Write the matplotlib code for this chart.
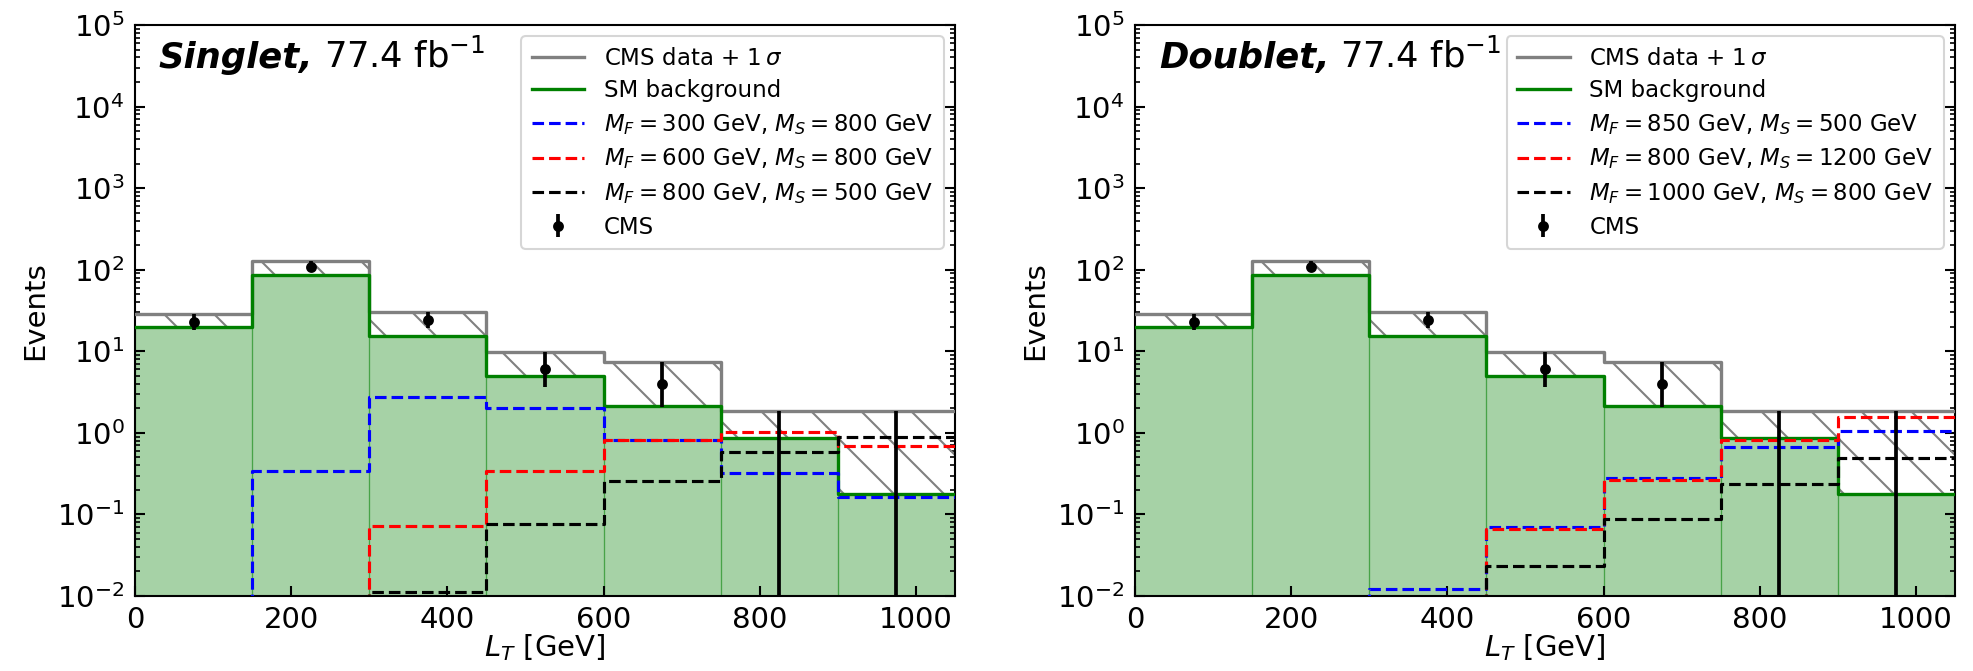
import numpy as np
import matplotlib
matplotlib.use("Agg")
import matplotlib.pyplot as plt
from matplotlib.ticker import LogLocator, NullFormatter, FixedLocator
from matplotlib.transforms import offset_copy

# ---------------- data ----------------
bin_edges = [0, 150, 300, 450, 600, 750, 900, 1050]

sm_background = [20.0, 85.0, 15.5, 5.0, 2.12, 0.855, 0.177]
cms_data = [23.0, 108.0, 24.0, 6.0, 4.0, 0.0, 0.0]
cms_err_low = [4.8, 10.4, 4.9, 2.3, 1.9, 0.0, 0.0]
cms_data_plus_sigma = [28.7, 127.0, 30.0, 9.8, 7.3, 1.86, 1.86]

singlet_labels = [r"$M_F = 300$ GeV, $M_S = 800$ GeV",
                  r"$M_F = 600$ GeV, $M_S = 800$ GeV",
                  r"$M_F = 800$ GeV, $M_S = 500$ GeV"]
singlet_blue = [0.0, 0.344, 2.77, 2.02, 0.82, 0.324, 0.162]
singlet_red = [0.0, 0.0, 0.0713, 0.344, 0.82, 1.02, 0.695]
singlet_black = [0.0, 0.0, 0.0111, 0.0757, 0.254, 0.58, 0.90]

doublet_labels = [r"$M_F = 850$ GeV, $M_S = 500$ GeV",
                  r"$M_F = 800$ GeV, $M_S = 1200$ GeV",
                  r"$M_F = 1000$ GeV, $M_S = 800$ GeV"]
doublet_blue = [0.0, 0.0, 0.0123, 0.071, 0.277, 0.67, 1.06]
doublet_red = [0.0, 0.0, 0.0, 0.0655, 0.264, 0.82, 1.57]
doublet_black = [0.0, 0.0, 0.0, 0.0231, 0.0886, 0.239, 0.495]

panel_names = ["Singlet,", "Doublet,"]
lumi_text = r" 77.4 fb$^{-1}$"

# ---------------- style ----------------
plt.rcParams["font.family"] = ["DejaVu Sans"]
plt.rcParams["font.size"] = 7
plt.rcParams["hatch.linewidth"] = 0.5
plt.rcParams["hatch.color"] = "gray"
plt.rcParams["axes.linewidth"] = 0.5

W, H, DPI = 1973, 671, 300
fig = plt.figure(figsize=(W / DPI, H / DPI), dpi=DPI)

ax_w = 820 / W
ax_h = 571 / H
ax_b = (H - 596) / H
axes = [fig.add_axes([135 / W, ax_b, ax_w, ax_h]),
        fig.add_axes([1135 / W, ax_b, ax_w, ax_h])]

edges = np.array(bin_edges, dtype=float)
centers = 0.5 * (edges[:-1] + edges[1:])
widths = np.diff(edges)


def stepy(v):
    v = np.asarray(v, dtype=float)
    return np.append(v, v[-1])


panels = [
    (singlet_labels, [singlet_blue, singlet_red, singlet_black]),
    (doublet_labels, [doublet_blue, doublet_red, doublet_black]),
]

for ax, name, (labels, sigs) in zip(axes, panel_names, panels):
    bkg = np.array(sm_background)
    up = np.array(cms_data_plus_sigma)
    data = np.array(cms_data)

    ax.set_yscale("log")
    # green filled background
    ax.bar(edges[:-1], bkg, width=widths, align="edge", color="green",
           alpha=0.35, edgecolor="green", linewidth=0.3, zorder=1)
    # hatched uncertainty band
    ax.fill_between(edges, stepy(bkg), stepy(up), step="post",
                    hatch="\\\\", facecolor="none", edgecolor="gray",
                    linewidth=0, zorder=2)
    h_gray, = ax.step(edges, stepy(up), where="post", color="gray",
                      lw=0.8, zorder=3, label=r"CMS data + 1$\,\sigma$")
    h_green, = ax.step(edges, stepy(bkg), where="post", color="green",
                       lw=0.8, zorder=4, label="SM background")
    handles = [h_gray, h_green]
    for vals, col, lab in zip(sigs, ["blue", "red", "black"], labels):
        h, = ax.step(edges, stepy(vals), where="post", color=col, lw=0.75,
                     ls="--", zorder=5, label=lab)
        handles.append(h)
    err_hi = up - data
    eb = ax.errorbar(centers, data, yerr=[cms_err_low, err_hi], fmt="o",
                     color="black", ms=1.6, elinewidth=0.9, capsize=0,
                     zorder=6, label="CMS")
    handles.append(eb)

    ax.set_xlim(0, 1050)
    ax.set_ylim(1e-2, 1e5)
    ax.xaxis.set_major_locator(FixedLocator([0, 200, 400, 600, 800, 1000]))
    ax.yaxis.set_major_locator(LogLocator(base=10, numticks=20))
    ax.yaxis.set_minor_locator(LogLocator(base=10, subs=np.arange(2, 10) * 1.0,
                                          numticks=20))
    ax.yaxis.set_minor_formatter(NullFormatter())
    ax.tick_params(axis="both", which="major", direction="in", length=2.4,
                   width=0.5, labelsize=7, right=True, top=False, pad=2.5)
    ax.tick_params(axis="both", which="minor", direction="in", length=1.2,
                   width=0.4, right=True, top=False)
    ax.set_xlabel(r"$L_T$ [GeV]", fontsize=7, labelpad=-0.5)
    ax.set_ylabel("Events", fontsize=7, labelpad=2)

    leg = ax.legend(handles=handles, loc="upper right", fontsize=5.5,
                    handlelength=2.3, handletextpad=0.85, labelspacing=0.42,
                    borderaxespad=0.5, borderpad=0.45, framealpha=0.8)
    leg.get_frame().set_linewidth(0.5)

    t1 = ax.text(0.029, 0.925, name, transform=ax.transAxes, fontsize=8.5,
                 fontweight="bold", fontstyle="italic", ha="left",
                 va="baseline")
    fig.canvas.draw()
    bb = t1.get_window_extent(renderer=fig.canvas.get_renderer())
    tr = offset_copy(ax.transAxes, fig=fig, x=bb.width, y=0, units="dots")
    ax.text(0.029, 0.925, lumi_text, transform=tr, fontsize=8.5,
            ha="left", va="baseline")

fig.savefig("out.png", dpi=DPI)
